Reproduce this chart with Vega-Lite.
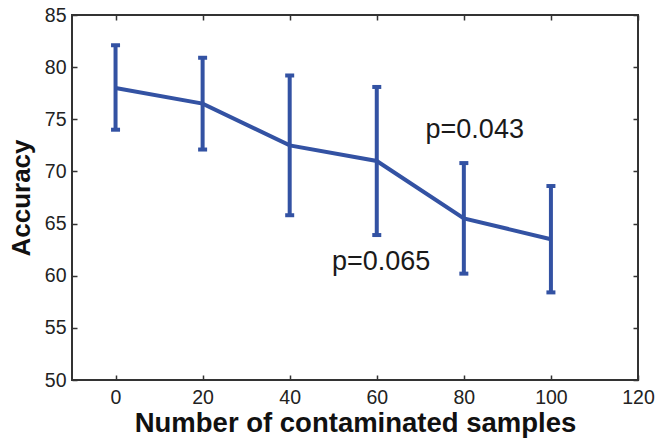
{
  "$schema": "https://vega.github.io/schema/vega-lite/v6.json",
  "width": 566,
  "height": 365,
  "autosize": {"type": "none"},
  "padding": {"left": 72, "top": 15, "right": 20, "bottom": 58},
  "config": {
    "font": "Liberation Sans",
    "view": {"stroke": "#333333", "strokeWidth": 2},
    "axis": {
      "grid": false,
      "domain": false,
      "labelFlush": false,
      "labelOverlap": false,
      "tickColor": "#333333",
      "tickWidth": 1.5,
      "tickSize": -5,
      "labelFontSize": 19.5,
      "labelColor": "#222222",
      "labelFont": "Liberation Sans",
      "titleFont": "Liberation Sans",
      "titleFontWeight": "bold",
      "titleColor": "#111111"
    }
  },
  "data": {
    "values": [
      {"x": 0, "mean": 78.0, "lo": 74.0, "hi": 82.1},
      {"x": 20, "mean": 76.5, "lo": 72.1, "hi": 80.9},
      {"x": 40, "mean": 72.5, "lo": 65.8, "hi": 79.2},
      {"x": 60, "mean": 71.0, "lo": 63.9, "hi": 78.1},
      {"x": 80, "mean": 65.5, "lo": 60.2, "hi": 70.8},
      {"x": 100, "mean": 63.5, "lo": 58.4, "hi": 68.6}
    ]
  },
  "layer": [
    {
      "mark": {"type": "line", "color": "#3352A3", "strokeWidth": 4},
      "encoding": {
        "x": {"field": "x", "type": "quantitative", "scale": {"domain": [-10, 120]},
              "axis": {"values": [0, 20, 40, 60, 80, 100, 120], "title": "Number of contaminated samples", "labelPadding": 13, "titlePadding": 3, "titleFontSize": 27.5}},
        "y": {"field": "mean", "type": "quantitative", "scale": {"domain": [50, 85]},
              "axis": {"values": [50, 55, 60, 65, 70, 75, 80, 85], "title": "Accuracy", "labelPadding": 11, "titlePadding": 10, "titleFontSize": 26}}
      }
    },
    {
      "mark": {"type": "rule", "color": "#3352A3", "strokeWidth": 4},
      "encoding": {
        "x": {"field": "x", "type": "quantitative", "axis": null},
        "y": {"field": "lo", "type": "quantitative", "axis": null},
        "y2": {"field": "hi"}
      }
    },
    {
      "mark": {"type": "tick", "color": "#3352A3", "orient": "horizontal", "thickness": 4, "size": 9, "opacity": 1},
      "encoding": {
        "x": {"field": "x", "type": "quantitative", "axis": null},
        "y": {"field": "lo", "type": "quantitative", "axis": null}
      }
    },
    {
      "mark": {"type": "tick", "color": "#3352A3", "orient": "horizontal", "thickness": 4, "size": 9, "opacity": 1},
      "encoding": {
        "x": {"field": "x", "type": "quantitative", "axis": null},
        "y": {"field": "hi", "type": "quantitative", "axis": null}
      }
    },
    {
      "data": {"values": [
        {"x": 82.5, "y": 74.0, "label": "p=0.043"},
        {"x": 61.0, "y": 61.3, "label": "p=0.065"}
      ]},
      "mark": {"type": "text", "fontSize": 27, "color": "#1a1a1a", "font": "Liberation Sans", "align": "center", "baseline": "middle"},
      "encoding": {
        "x": {"field": "x", "type": "quantitative", "axis": null},
        "y": {"field": "y", "type": "quantitative", "axis": null},
        "text": {"field": "label"}
      }
    },
    {
      "mark": {"type": "point", "opacity": 0},
      "encoding": {
        "x": {"field": "x", "type": "quantitative",
              "axis": {"orient": "top", "values": [0, 20, 40, 60, 80, 100, 120], "labels": false, "title": null}},
        "y": {"field": "mean", "type": "quantitative",
              "axis": {"orient": "right", "values": [50, 55, 60, 65, 70, 75, 80, 85], "labels": false, "title": null}}
      }
    }
  ],
  "resolve": {"axis": {"x": "independent", "y": "independent"}}
}
